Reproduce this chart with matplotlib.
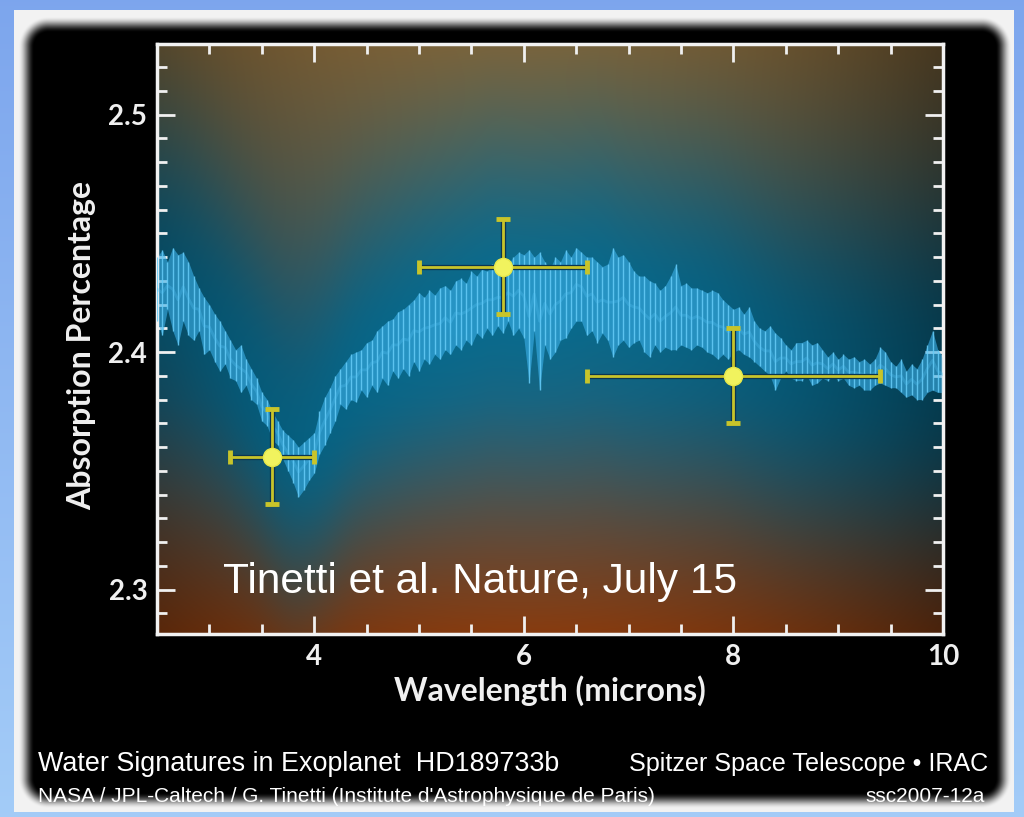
import numpy as np
import matplotlib.pyplot as plt
from matplotlib.ticker import MultipleLocator
import matplotlib.patheffects as pe

# spectrum envelope (upper / lower edge of the noisy band)
spec_hi = [2.440, 2.443, 2.438, 2.444, 2.441, 2.442, 2.438, 2.432, 2.427, 2.423,
           2.420, 2.416, 2.413, 2.409, 2.405, 2.401, 2.403, 2.397, 2.393, 2.389,
           2.383, 2.380, 2.375, 2.371, 2.367, 2.365, 2.363, 2.360, 2.362, 2.364,
           2.366, 2.375, 2.381, 2.385, 2.390, 2.393, 2.396, 2.399, 2.400, 2.401,
           2.404, 2.405, 2.409, 2.411, 2.413, 2.414, 2.417, 2.418, 2.420, 2.422,
           2.425, 2.423, 2.426, 2.424, 2.427, 2.428, 2.426, 2.430, 2.431, 2.429,
           2.434, 2.432, 2.435, 2.434, 2.437, 2.435, 2.438, 2.437, 2.440, 2.442,
           2.441, 2.443, 2.440, 2.442, 2.438, 2.435, 2.440, 2.438, 2.443, 2.440,
           2.444, 2.442, 2.440, 2.440, 2.438, 2.436, 2.437, 2.444, 2.440, 2.441,
           2.438, 2.434, 2.432, 2.432, 2.430, 2.429, 2.426, 2.428, 2.432, 2.437,
           2.428, 2.429, 2.427, 2.427, 2.426, 2.425, 2.426, 2.425, 2.422, 2.420,
           2.418, 2.419, 2.416, 2.419, 2.413, 2.410, 2.409, 2.411, 2.408, 2.406,
           2.403, 2.401, 2.404, 2.404, 2.405, 2.403, 2.404, 2.401, 2.398, 2.400,
           2.397, 2.399, 2.397, 2.398, 2.396, 2.397, 2.395, 2.397, 2.402, 2.400,
           2.396, 2.394, 2.397, 2.392, 2.395, 2.393, 2.397, 2.403, 2.409, 2.401,
           2.398]
spec_lo = [2.413, 2.407, 2.418, 2.409, 2.403, 2.413, 2.407, 2.405, 2.409, 2.399,
           2.401, 2.396, 2.392, 2.395, 2.389, 2.388, 2.383, 2.386, 2.380, 2.378,
           2.371, 2.369, 2.363, 2.361, 2.355, 2.350, 2.345, 2.339, 2.342, 2.346,
           2.349, 2.357, 2.361, 2.366, 2.371, 2.378, 2.376, 2.380, 2.379, 2.384,
           2.381, 2.386, 2.383, 2.389, 2.386, 2.392, 2.389, 2.393, 2.390, 2.396,
           2.392, 2.397, 2.395, 2.399, 2.397, 2.401, 2.399, 2.403, 2.401, 2.405,
           2.403, 2.408, 2.406, 2.410, 2.407, 2.411, 2.408, 2.413, 2.407, 2.410,
           2.406, 2.387, 2.409, 2.384, 2.403, 2.397, 2.400, 2.405, 2.406, 2.410,
           2.413, 2.413, 2.407, 2.409, 2.404, 2.408, 2.405, 2.398, 2.403, 2.405,
           2.402, 2.404, 2.405, 2.400, 2.398, 2.403, 2.400, 2.402, 2.401, 2.401,
           2.403, 2.402, 2.401, 2.403, 2.402, 2.400, 2.399, 2.397, 2.399, 2.397,
           2.400, 2.401, 2.399, 2.398, 2.396, 2.394, 2.392, 2.390, 2.384, 2.389,
           2.392, 2.389, 2.388, 2.388, 2.390, 2.386, 2.387, 2.389, 2.388, 2.390,
           2.388, 2.389, 2.386, 2.385, 2.386, 2.384, 2.384, 2.386, 2.387, 2.386,
           2.385, 2.385, 2.383, 2.381, 2.382, 2.380, 2.380, 2.383, 2.384, 2.383,
           2.383]
spec_hi = np.array(spec_hi)
spec_lo = np.array(spec_lo)
wavelength = np.linspace(2.5, 10.0, len(spec_hi))

# Spitzer IRAC points
pt_x = [3.6, 5.8, 8.0]
pt_xerr = [0.4, 0.8, 1.4]
pt_y = [2.356, 2.436, 2.390]
pt_yerr = [0.02, 0.02, 0.02]

W, H = 1024, 817
fig = plt.figure(figsize=(W / 100, H / 100), dpi=100)

# backdrop: blue page, white card, soft black panel
bg = fig.add_axes([0, 0, 1, 1])
bg.set_axis_off()
yy, xx = np.mgrid[0:H, 0:W]
t = yy / H
img = np.stack([0.49 + 0.15 * t, 0.65 + 0.15 * t, 0.93 + 0.04 * t], -1)
card = (xx >= 14) & (xx <= 1013) & (yy >= 10) & (yy <= 811)
img[card] = [0.95, 0.95, 0.95]
cx, cy = (26 + 1003) / 2, (24 + 800) / 2
hx, hy = (1003 - 26) / 2, (800 - 24) / 2
r = 22
qx = np.abs(xx - cx) - (hx - r)
qy = np.abs(yy - cy) - (hy - r)
sd = np.hypot(np.maximum(qx, 0), np.maximum(qy, 0)) + np.minimum(np.maximum(qx, qy), 0) - r
a = np.clip(0.5 - sd / 16, 0, 1)
a = a * a * (3 - 2 * a)
img = img * (1 - a[..., None])
bg.imshow(img, extent=[0, 1, 0, 1], aspect='auto', origin='upper')
bg.set_xlim(0, 1)
bg.set_ylim(0, 1)

ylo, yhi = 2.2813, 2.5297
ax = fig.add_axes([157 / W, 1 - 634 / H, 786 / W, 590 / H])
ax.set_xlim(2.5, 10)
ax.set_ylim(ylo, yhi)

# gradient behind the data, glowing teal along the spectrum
gx = np.linspace(2.5, 10, 500)
gy = np.linspace(ylo, yhi, 400)
GX, GY = np.meshgrid(gx, gy)
mid = (spec_hi + spec_lo) / 2
smooth = np.convolve(np.pad(mid, 6, mode='edge'), np.ones(13) / 13, mode='valid')
curve = np.interp(gx, wavelength, smooth)
dy = GY - curve[None, :]
glow = np.where(dy > 0, np.exp(-(dy / 0.065) ** 2), np.exp(-(dy / 0.06) ** 2))
f = (GY - ylo) / (yhi - ylo)
top_c = np.array([0.50, 0.39, 0.22])
mid_c = np.array([0.20, 0.36, 0.42])
bot_c = np.array([0.55, 0.24, 0.06])
up = np.clip((f - 0.45) / 0.55, 0, 1)[..., None]
dn = np.clip((0.40 - f) / 0.40, 0, 1)[..., None]
base = mid_c * (1 - up - dn) + top_c * up + bot_c * dn
teal = np.array([0.03, 0.42, 0.56])
col = base * (1 - glow[..., None]) + teal * glow[..., None]
xn = (GX - 2.5) / 7.5
vig = 1 - 0.45 * ((xn - 0.45) / 0.55) ** 2 - 0.25 * np.clip(0.25 - f, 0, 1) * (1 - xn)
col = np.clip(col * vig[..., None], 0, 1)
ax.imshow(col, extent=[2.5, 10, ylo, yhi], origin='lower', aspect='auto', zorder=0)

# spectrum
ax.fill_between(wavelength, spec_lo, spec_hi, color='#3aaee6', alpha=0.62, lw=0, zorder=2)
ax.vlines(wavelength, spec_lo, spec_hi, color='#66ccf8', lw=1.0, alpha=0.85, zorder=3)
ax.plot(wavelength, mid, color='#52c0f2', lw=2, alpha=0.3, zorder=3)

eb = ax.errorbar(pt_x, pt_y, xerr=pt_xerr, yerr=pt_yerr, fmt='o', color='#f1f35e',
                 ms=13, mec='#e6e84a', ecolor='#c8c42a', elinewidth=2.0,
                 capsize=5, capthick=3.5, zorder=5)
for lc in eb[2]:
    lc.set_path_effects([pe.Stroke(linewidth=3.8, foreground='#0c3550'), pe.Normal()])

ax.text(3.13, 2.303, 'Tinetti et al. Nature, July 15', color='white', fontsize=30.5,
        family='Liberation Sans', va='center', ha='left', zorder=6)

ax.xaxis.set_major_locator(MultipleLocator(2))
ax.xaxis.set_minor_locator(MultipleLocator(0.5))
ax.yaxis.set_major_locator(MultipleLocator(0.1))
ax.yaxis.set_minor_locator(MultipleLocator(0.01))
ax.tick_params(which='both', direction='in', top=True, right=True, color='#f0f0f0', width=2)
ax.tick_params(which='major', length=13, pad=7, labelsize=20, labelcolor='#f0f0f0')
ax.tick_params(which='minor', length=7)
for lab in ax.get_xticklabels() + ax.get_yticklabels():
    lab.set_family('Lato')
    lab.set_weight('bold')
for s in ax.spines.values():
    s.set_color('#f2f2f2')
    s.set_linewidth(2.5)

fig.text(82 / W, 1 - 345 / H, 'Absorption Percentage', rotation=90, color='#f0f0f0',
         fontsize=23, family='Lato', weight='bold', ha='center', va='center')
fig.text(550 / W, 1 - 691 / H, 'Wavelength (microns)', color='#f0f0f0',
         fontsize=23, family='Lato', weight='bold', ha='center', va='center')

sans = 'Liberation Sans'
fig.text(38 / W, 1 - 764 / H, 'Water Signatures in Exoplanet  HD189733b', color='white',
         fontsize=19.4, family=sans, ha='left', va='center')
fig.text(988 / W, 1 - 764 / H, 'Spitzer Space Telescope \u2022 IRAC', color='white',
         fontsize=18.1, family=sans, ha='right', va='center')
fig.text(38 / W, 1 - 797 / H,
         "NASA / JPL-Caltech / G. Tinetti (Institute d'Astrophysique de Paris)",
         color='white', fontsize=15, family=sans, ha='left', va='center')
fig.text(985 / W, 1 - 797 / H, 'ssc2007-12a', color='white',
         fontsize=15, family=sans, ha='right', va='center')

fig.savefig('out.png', dpi=100)
